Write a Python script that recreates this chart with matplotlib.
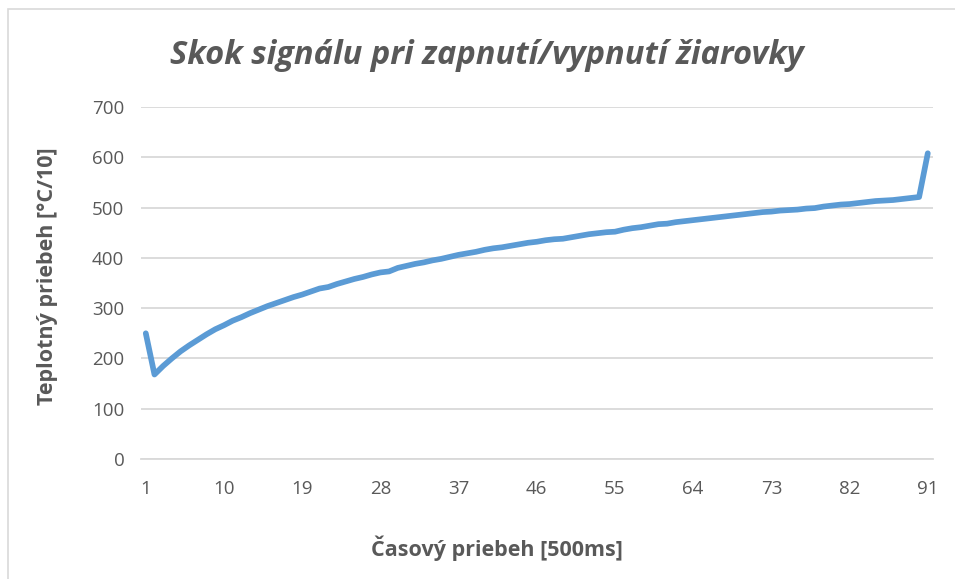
import matplotlib
matplotlib.use("Agg")
import matplotlib.pyplot as plt
from matplotlib.patches import Rectangle

x_values = list(range(1, 92))
temperature = [250, 168, 185, 200, 214, 226, 237, 248, 258, 266,
               275, 282, 290, 297, 304, 310, 316, 322, 327, 333,
               339, 342, 348, 353, 358, 362, 367, 371, 373, 380,
               384, 388, 391, 395, 398, 402, 406, 409, 412, 416,
               419, 421, 424, 427, 430, 432, 435, 437, 438, 441,
               444, 447, 449, 451, 452, 456, 459, 461, 464, 467,
               468, 471, 473, 475, 477, 479, 481, 483, 485, 487,
               489, 491, 492, 494, 495, 496, 498, 499, 502, 504,
               506, 507, 509, 511, 513, 514, 515, 517, 519, 521,
               608]
x_ticks = [1, 10, 19, 28, 37, 46, 55, 64, 73, 82, 91]
y_ticks = [0, 100, 200, 300, 400, 500, 600, 700]

title = "Skok signálu pri zapnutí/vypnutí žiarovky"
xlabel = "Časový priebeh [500ms]"
ylabel = "Teplotný priebeh [°C/10]"

W, H = 955, 579
fig = plt.figure(figsize=(W / 100, H / 100), dpi=100)
fig.patch.set_facecolor("white")

# chart border (only top/left visible)
fig.patches.append(Rectangle((8 / W, -0.1), 1.2, (H - 9) / H + 0.1,
                             transform=fig.transFigure, fill=False,
                             edgecolor="#d9d9d9", linewidth=1.2))

ax = fig.add_axes([141 / W, (H - 459) / H, (933 - 141) / W, (459 - 107) / H])
ax.plot(x_values, temperature, color="#5b9bd5", linewidth=4.1,
        solid_joinstyle="round", solid_capstyle="round", zorder=3)

ax.set_xlim(0.45, 91.6)
ax.set_ylim(0, 700)
ax.set_xticks(x_ticks)
ax.set_xticklabels([str(t) for t in x_ticks])
ax.set_yticks(y_ticks)
ax.grid(axis="y", color="#d9d9d9", linewidth=1.3)
ax.set_axisbelow(True)
for s in ["top", "right", "left"]:
    ax.spines[s].set_visible(False)
ax.spines["bottom"].set_color("#d9d9d9")
ax.spines["bottom"].set_linewidth(1.3)
ax.tick_params(length=0, labelsize=13.5, labelcolor="#595959")
ax.tick_params(axis="x", pad=15)
ax.tick_params(axis="y", pad=12)
for lab in ax.get_xticklabels() + ax.get_yticklabels():
    lab.set_family("Open Sans")

fig.text(487 / W, 1 - 55 / H, title, ha="center", va="center",
         fontsize=23.5, style="italic", fontweight="bold",
         color="#595959", family="Open Sans")
fig.text(497 / W, 1 - 548 / H, xlabel, ha="center", va="center",
         fontsize=15.5, fontweight="bold", color="#595959", family="Open Sans")
fig.text(48 / W, 1 - 276 / H, ylabel, ha="center", va="center",
         rotation=90, fontsize=15.5, fontweight="bold", color="#595959",
         family="Open Sans")

fig.savefig("out.png", dpi=100, facecolor="white")
